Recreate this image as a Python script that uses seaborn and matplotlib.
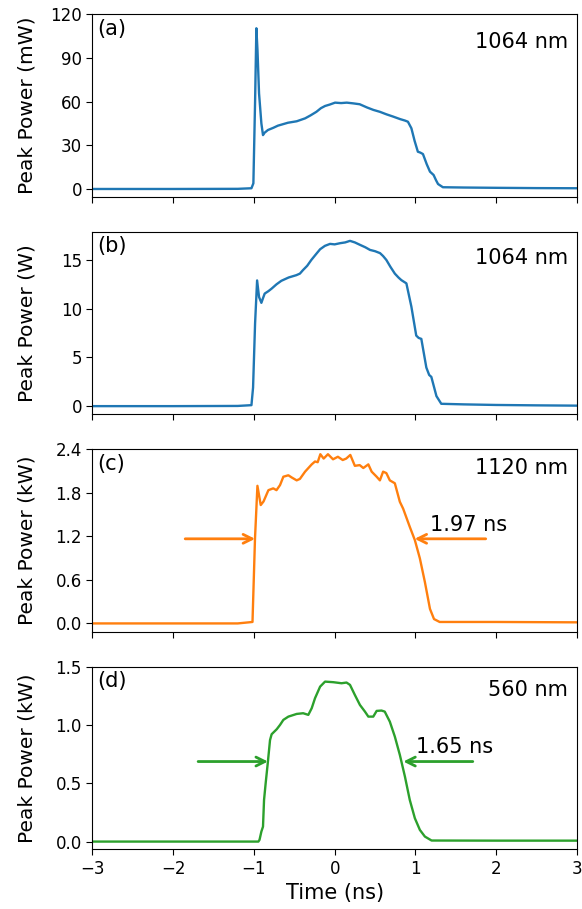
import numpy as np
import pandas as pd
import matplotlib
matplotlib.use("Agg")
import matplotlib.pyplot as plt
import seaborn as sns

# ---- data ----
# (a) 1064 nm seed, mW
t_a = [-3.0, -2.0, -1.2, -1.03, -1.006, -0.985, -0.969, -0.955, -0.936, -0.907, -0.887,
       -0.87, -0.826, -0.76, -0.702, -0.64, -0.578, -0.47, -0.366, -0.30, -0.226, -0.17,
       -0.119, -0.06, 0.005, 0.08, 0.15, 0.23, 0.31, 0.40, 0.48, 0.56, 0.64, 0.72, 0.81,
       0.87, 0.907, 0.95, 0.99, 1.03, 1.06, 1.093, 1.14, 1.18, 1.225, 1.255, 1.28, 1.34,
       1.6, 2.0, 2.5, 3.0]
p_a = [0.0, 0.0, 0.1, 0.5, 3.9, 60.0, 110.4, 95.0, 65.7, 45.0, 37.0,
       38.5, 40.5, 42.0, 43.5, 44.5, 45.5, 46.5, 48.5, 50.5, 53.0, 55.5,
       57.0, 58.0, 59.3, 59.0, 59.3, 58.8, 58.2, 56.0, 54.3, 53.0, 51.3, 49.8, 48.0,
       47.0, 46.2, 41.7, 33.0, 25.6, 25.0, 24.0, 17.0, 11.9, 9.6, 6.0, 3.4, 1.2,
       1.0, 0.8, 0.6, 0.5]

# (b) 1064 nm amplified, W
t_b = [-3.0, -2.0, -1.2, -1.03, -1.01, -0.985, -0.96, -0.936, -0.907, -0.886, -0.866,
       -0.82, -0.78, -0.72, -0.66, -0.57, -0.474, -0.43, -0.392, -0.34, -0.289, -0.23,
       -0.18, -0.12, -0.057, 0.0, 0.067, 0.13, 0.19, 0.25, 0.314, 0.38, 0.438, 0.50,
       0.562, 0.60, 0.64, 0.69, 0.745, 0.79, 0.826, 0.888, 0.95, 1.01, 1.04, 1.073,
       1.135, 1.17, 1.197, 1.26, 1.32, 1.6, 2.0, 2.5, 3.0]
p_b = [0.0, 0.0, 0.02, 0.1, 1.9, 8.5, 12.9, 11.2, 10.6, 11.1, 11.55,
       11.8, 12.06, 12.5, 12.86, 13.2, 13.44, 13.6, 13.96, 14.4, 15.0, 15.6,
       16.1, 16.45, 16.65, 16.6, 16.72, 16.8, 16.96, 16.8, 16.55, 16.3, 16.03, 15.9,
       15.7, 15.4, 15.0, 14.3, 13.6, 13.2, 12.93, 12.6, 10.2, 7.24, 7.0, 6.9,
       3.96, 3.2, 3.0, 1.03, 0.24, 0.18, 0.12, 0.08, 0.05]

# (c) 1120 nm, kW
t_c = [-3.0, -2.0, -1.2, -1.017, -0.986, -0.956, -0.915, -0.88, -0.82, -0.76, -0.72,
       -0.676, -0.635, -0.573, -0.532, -0.47, -0.43, -0.366, -0.284, -0.243, -0.21,
       -0.177, -0.136, -0.083, -0.02, 0.04, 0.1, 0.143, 0.194, 0.25, 0.31, 0.355,
       0.417, 0.458, 0.52, 0.56, 0.60, 0.64, 0.683, 0.745, 0.807, 0.848, 0.93, 0.993,
       1.055, 1.117, 1.18, 1.23, 1.3, 2.0, 3.0]
p_c = [0.0, 0.0, 0.0, 0.02, 1.17, 1.895, 1.63, 1.68, 1.835, 1.86, 1.835,
       1.905, 2.02, 2.04, 2.01, 1.97, 1.99, 2.09, 2.19, 2.23, 2.22,
       2.33, 2.27, 2.33, 2.26, 2.295, 2.25, 2.27, 2.32, 2.17, 2.18, 2.14,
       2.19, 2.09, 2.02, 1.97, 2.09, 2.07, 1.97, 1.93, 1.675, 1.58, 1.33, 1.147,
       0.895, 0.57, 0.2, 0.06, 0.02, 0.02, 0.015]

# (d) 560 nm, kW
t_d = [-3.0, -2.0, -1.2, -0.944, -0.93, -0.907, -0.887, -0.874, -0.854, -0.826, -0.8,
       -0.78, -0.717, -0.676, -0.635, -0.573, -0.47, -0.39, -0.326, -0.284, -0.243,
       -0.18, -0.119, -0.016, 0.085, 0.147, 0.19, 0.25, 0.313, 0.375, 0.417, 0.478,
       0.52, 0.58, 0.62, 0.683, 0.745, 0.807, 0.87, 0.93, 0.993, 1.055, 1.117, 1.2,
       2.0, 3.0]
p_d = [0.0, 0.0, 0.0, 0.0, 0.015, 0.086, 0.128, 0.357, 0.5, 0.686, 0.87,
       0.92, 0.963, 1.0, 1.043, 1.071, 1.094, 1.1, 1.086, 1.143, 1.229,
       1.328, 1.371, 1.366, 1.357, 1.363, 1.343, 1.257, 1.171, 1.114, 1.071, 1.071,
       1.12, 1.123, 1.114, 1.028, 0.9, 0.743, 0.557, 0.357, 0.2, 0.1, 0.043, 0.009,
       0.008, 0.008]

panel_tags = ["(a)", "(b)", "(c)", "(d)"]
wavelengths = ["1064 nm", "1064 nm", "1120 nm", "560 nm"]
ylabels = ["Peak Power (mW)", "Peak Power (W)", "Peak Power (kW)", "Peak Power (kW)"]
yticks = [[0, 30, 60, 90, 120], [0, 5, 10, 15], [0.0, 0.6, 1.2, 1.8, 2.4], [0.0, 0.5, 1.0, 1.5]]
ytick_labels = [["0", "30", "60", "90", "120"], ["0", "5", "10", "15"],
                ["0.0", "0.6", "1.2", "1.8", "2.4"], ["0.0", "0.5", "1.0", "1.5"]]
ylims = [(-5.5, 120), (-0.85, 17.9), (-0.116, 2.4), (-0.066, 1.5)]
xticks = [-3, -2, -1, 0, 1, 2, 3]

# FWHM annotations: (arrow tail x, arrow head x) pairs, level, text
fwhm_c = {"level": 1.165, "left": (-1.85, -0.985), "right": (1.87, 0.99),
          "text": "1.97 ns", "tx": 1.18, "ty": 1.35}
fwhm_d = {"level": 0.686, "left": (-1.69, -0.826), "right": (1.71, 0.85),
          "text": "1.65 ns", "tx": 1.01, "ty": 0.81}

colors = ["#1f77b4", "#1f77b4", "#ff7f0e", "#2ca02c"]

sns.set_theme(style="ticks")
plt.rcParams["font.family"] = ["DejaVu Sans"]
plt.rcParams["axes.edgecolor"] = "black"
plt.rcParams["axes.linewidth"] = 0.8
plt.rcParams["xtick.color"] = "black"
plt.rcParams["ytick.color"] = "black"
plt.rcParams["text.color"] = "black"
plt.rcParams["axes.labelcolor"] = "black"

fig, axes = plt.subplots(4, 1, figsize=(5.82, 9.09), dpi=100, sharex=True)
fig.subplots_adjust(left=0.1586, right=0.9914, top=0.9843, bottom=0.0657, hspace=0.19)

series = [(t_a, p_a), (t_b, p_b), (t_c, p_c), (t_d, p_d)]
for i, ax in enumerate(axes):
    df = pd.DataFrame({"t": series[i][0], "p": series[i][1]})
    sns.lineplot(data=df, x="t", y="p", ax=ax, color=colors[i], linewidth=1.7,
                 estimator=None, sort=False)
    ax.set_xlim(-3, 3)
    ax.set_ylim(*ylims[i])
    ax.set_yticks(yticks[i])
    ax.set_yticklabels(ytick_labels[i])
    ax.set_xticks(xticks)
    ax.set_ylabel(ylabels[i], fontsize=14.5, labelpad=10)
    ax.set_xlabel("")
    ax.tick_params(labelsize=12, length=4, width=0.8, colors="black")
    for s in ax.spines.values():
        s.set_visible(True)
        s.set_linewidth(0.8)
        s.set_color("black")
    ax.text(0.01, 0.975, panel_tags[i], transform=ax.transAxes, ha="left", va="top",
            fontsize=15)
    ax.text(0.981, [0.848, 0.855, 0.896, 0.872][i], wavelengths[i], transform=ax.transAxes,
            ha="right", va="center", fontsize=15)

for ax, fw, col in [(axes[2], fwhm_c, colors[2]), (axes[3], fwhm_d, colors[3])]:
    for side in ("left", "right"):
        x0, x1 = fw[side]
        ax.annotate("", xy=(x1, fw["level"]), xytext=(x0, fw["level"]),
                    arrowprops=dict(arrowstyle="->", color=col, lw=2,
                                    mutation_scale=16, shrinkA=0, shrinkB=0))
    ax.text(fw["tx"], fw["ty"], fw["text"], ha="left", va="center", fontsize=15)

axes[-1].set_xticklabels([str(x) if x >= 0 else "\u2212" + str(-x) for x in xticks])
axes[-1].set_xlabel("Time (ns)", fontsize=15)
fig.align_ylabels(axes)

fig.savefig("out.png", dpi=100)
